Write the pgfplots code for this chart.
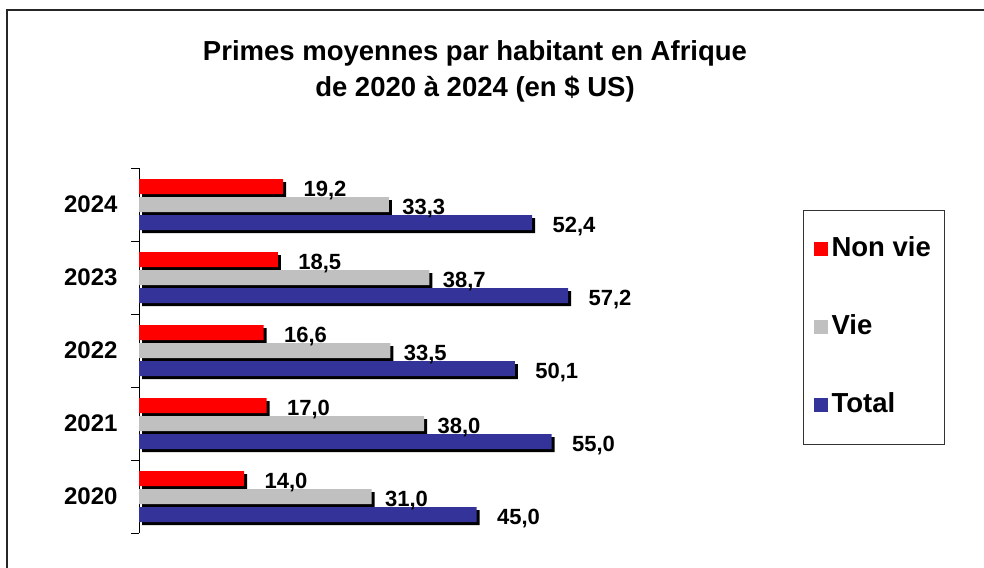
\documentclass[border=0pt]{standalone}
\usepackage{pgfplots}
\pgfplotsset{compat=1.18}
\usepackage{fontspec}
\setmainfont{Liberation Sans}
\definecolor{cred}{RGB}{255,0,0}
\definecolor{cgray}{RGB}{192,192,192}
\definecolor{cblue}{RGB}{51,51,153}
\pgfplotsset{shadowbar/.style={preaction={fill=black, draw=none, transform canvas={xshift=3pt,yshift=-3pt}}}}
\begin{document}
\begin{tikzpicture}[x=1pt,y=1pt]
\useasboundingbox (0,0) rectangle (984,-567);
\fill[white] (0,0) rectangle (984,-567);
\draw[line width=1.5pt, black!85] (7,-575) -- (7,-10) -- (990,-10);
\node[font=\bfseries\fontsize{27.5}{32}\selectfont, anchor=center] at (475,-53) {Primes moyennes par habitant en Afrique};
\node[font=\bfseries\fontsize{27.5}{32}\selectfont, anchor=center] at (475,-89) {de 2020 à 2024 (en \$ US)};
\begin{axis}[
  at={(139pt,-533pt)}, anchor=south west,
  scale only axis, width=600pt, height=365pt,
  xmin=0, xmax=80, ymin=-0.5, ymax=4.5,
  hide x axis,
  axis y line*=left, y axis line style={-, line width=1pt, black},
  ytick={0,...,4}, yticklabels={2020,2021,2022,2023,2024},
  major tick length=0pt,
  minor ytick={-0.5,0.5,1.5,2.5,3.5,4.5},
  minor tick length=8pt, tick align=outside,
  minor tick style={line width=1pt, black},
  yticklabel style={font=\bfseries\fontsize{24}{28}\selectfont, xshift=-18pt},
  xbar, bar width=15pt,
  nodes near coords={\pgfmathprintnumber[fixed,fixed zerofill,precision=1,use comma,assume math mode=true]{\pgfplotspointmeta}},
  every node near coord/.append style={font=\bfseries\fontsize{22}{26}\selectfont, anchor=west, yshift=-4pt, text=black},
  clip=false,
  legend style={at={(1.1067,0.885)}, anchor=north west, draw=black!80, line width=1pt,
    font=\bfseries\fontsize{27.5}{32}\selectfont, inner xsep=10pt, inner ysep=25pt, row sep=50pt,
    nodes={inner ysep=2pt, inner xsep=4pt, text height=19pt, text depth=5pt}},
  legend cell align=left,
]
\addplot[forget plot, fill=cred, draw=none, bar shift=18pt, shadowbar,
  every node near coord/.append style={xshift=17pt}] coordinates {(14.0,0) (17.0,1) (16.6,2) (18.5,3) (19.2,4)};
\addplot[forget plot, fill=cgray, draw=none, bar shift=0pt, shadowbar,
  every node near coord/.append style={xshift=10pt}] coordinates {(31.0,0) (38.0,1) (33.5,2) (38.7,3) (33.3,4)};
\addplot[forget plot, fill=cblue, draw=none, bar shift=-18pt, shadowbar,
  every node near coord/.append style={xshift=17pt}] coordinates {(45.0,0) (55.0,1) (50.1,2) (57.2,3) (52.4,4)};
\addlegendimage{legend image code/.code={\fill[cred] (0pt,-6pt) rectangle (13pt,7pt);}}
\addlegendentry{Non vie}
\addlegendimage{legend image code/.code={\fill[cgray] (0pt,-6pt) rectangle (13pt,7pt);}}
\addlegendentry{Vie}
\addlegendimage{legend image code/.code={\fill[cblue] (0pt,-6pt) rectangle (13pt,7pt);}}
\addlegendentry{Total}
\end{axis}
\end{tikzpicture}
\end{document}
